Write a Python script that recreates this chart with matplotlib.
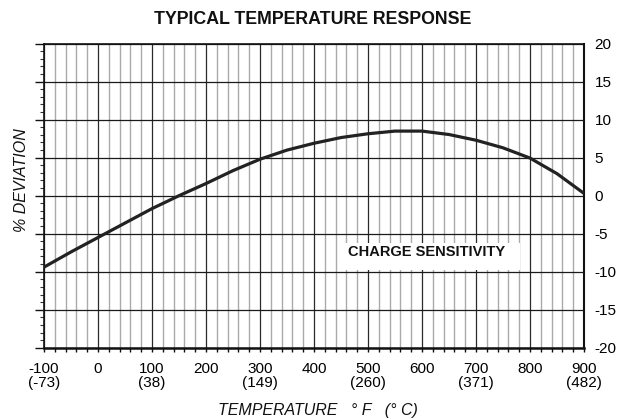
import matplotlib
matplotlib.use("Agg")
import matplotlib.pyplot as plt
from matplotlib.ticker import MultipleLocator, FixedLocator
from matplotlib.patches import Rectangle

plt.rcParams['font.family'] = ['Liberation Sans', 'DejaVu Sans']

# Data
temp_f = [-100, -50, 0, 50, 100, 150, 200, 250, 300, 350, 400, 450, 500,
          550, 600, 650, 700, 750, 800, 850, 900]
deviation = [-9.4, -7.4, -5.5, -3.6, -1.7, 0.0, 1.6, 3.3, 4.8, 6.0, 6.9, 7.65, 8.15,
             8.5, 8.5, 8.05, 7.3, 6.3, 4.95, 2.9, 0.3]

x_ticks = [-100, 0, 100, 200, 300, 400, 500, 600, 700, 800, 900]
x_tick_labels = ['-100\n(-73)', '0', '100\n(38)', '200', '300\n(149)', '400',
                 '500\n(260)', '600', '700\n(371)', '800', '900\n(482)']
y_ticks = [-20, -15, -10, -5, 0, 5, 10, 15, 20]
y_tick_labels = ['-20', '-15', '-10', '-5', '0', '5', '10', '15', '20']

title = 'TYPICAL TEMPERATURE RESPONSE'
annotation = 'CHARGE SENSITIVITY'
xlabel = 'TEMPERATURE   ° F   (° C)'
ylabel = '% DEVIATION'

fig = plt.figure(figsize=(6.21, 4.19), dpi=100)
L, R, T, B = 44 / 621, 584 / 621, 1 - 43.7 / 419, 1 - 347.7 / 419
ax = fig.add_axes([L, B, R - L, T - B])

ax.set_xlim(-100, 900)
ax.set_ylim(-20, 20)

ax.xaxis.set_major_locator(FixedLocator(x_ticks))
ax.set_xticklabels(x_tick_labels)
ax.xaxis.set_minor_locator(MultipleLocator(20))
ax.yaxis.set_major_locator(FixedLocator(y_ticks))
ax.set_yticklabels(y_tick_labels)
ax.yaxis.set_minor_locator(MultipleLocator(1))

ax.set_axisbelow(True)
ax.grid(which='minor', axis='x', color='#aaaaaa', lw=1.0)
ax.grid(which='major', axis='x', color='#2a2a2a', lw=0.9)
ax.grid(which='major', axis='y', color='#1a1a1a', lw=0.9)

ax.tick_params(axis='x', which='both', direction='out', length=3, width=1,
               color='#111', labelsize=11, pad=7)
ax.tick_params(axis='y', which='major', direction='out', left=True, right=False,
               labelleft=False, labelright=True, length=6.5, width=1,
               color='#111', labelsize=11, pad=1.2)
ax.tick_params(axis='y', which='minor', direction='out', left=True, right=False,
               length=3.2, width=0.8, color='#333')

for lab in ax.get_xticklabels():
    lab.set_linespacing(1.0)

for side, w in [('left', 1.2), ('right', 1.5), ('top', 1.2), ('bottom', 1.8)]:
    ax.spines[side].set_linewidth(w)
    ax.spines[side].set_color('#111')

ax.add_patch(Rectangle((446, -9.8), 336, 3.6, facecolor='white',
                       edgecolor='none', zorder=1.5))
ax.text(609, -7.45, annotation, ha='center', va='center', fontsize=10.5,
        fontweight='bold', color='#111', zorder=4)

ax.plot(temp_f, deviation, color='#222', lw=2.3, zorder=3,
        solid_capstyle='butt', solid_joinstyle='round')

fig.text(313 / 621, 1 - 19 / 419, title, ha='center', va='center',
         fontsize=12.8, fontweight='bold', color='#111')
fig.text(318 / 621, 1 - 410 / 419, xlabel, ha='center', va='center',
         fontsize=11.5, style='italic', color='#111')
fig.text(22 / 621, 1 - 180 / 419, ylabel, ha='center', va='center',
         rotation=90, fontsize=11.5, style='italic', color='#111')

fig.savefig('out.png', dpi=100)
